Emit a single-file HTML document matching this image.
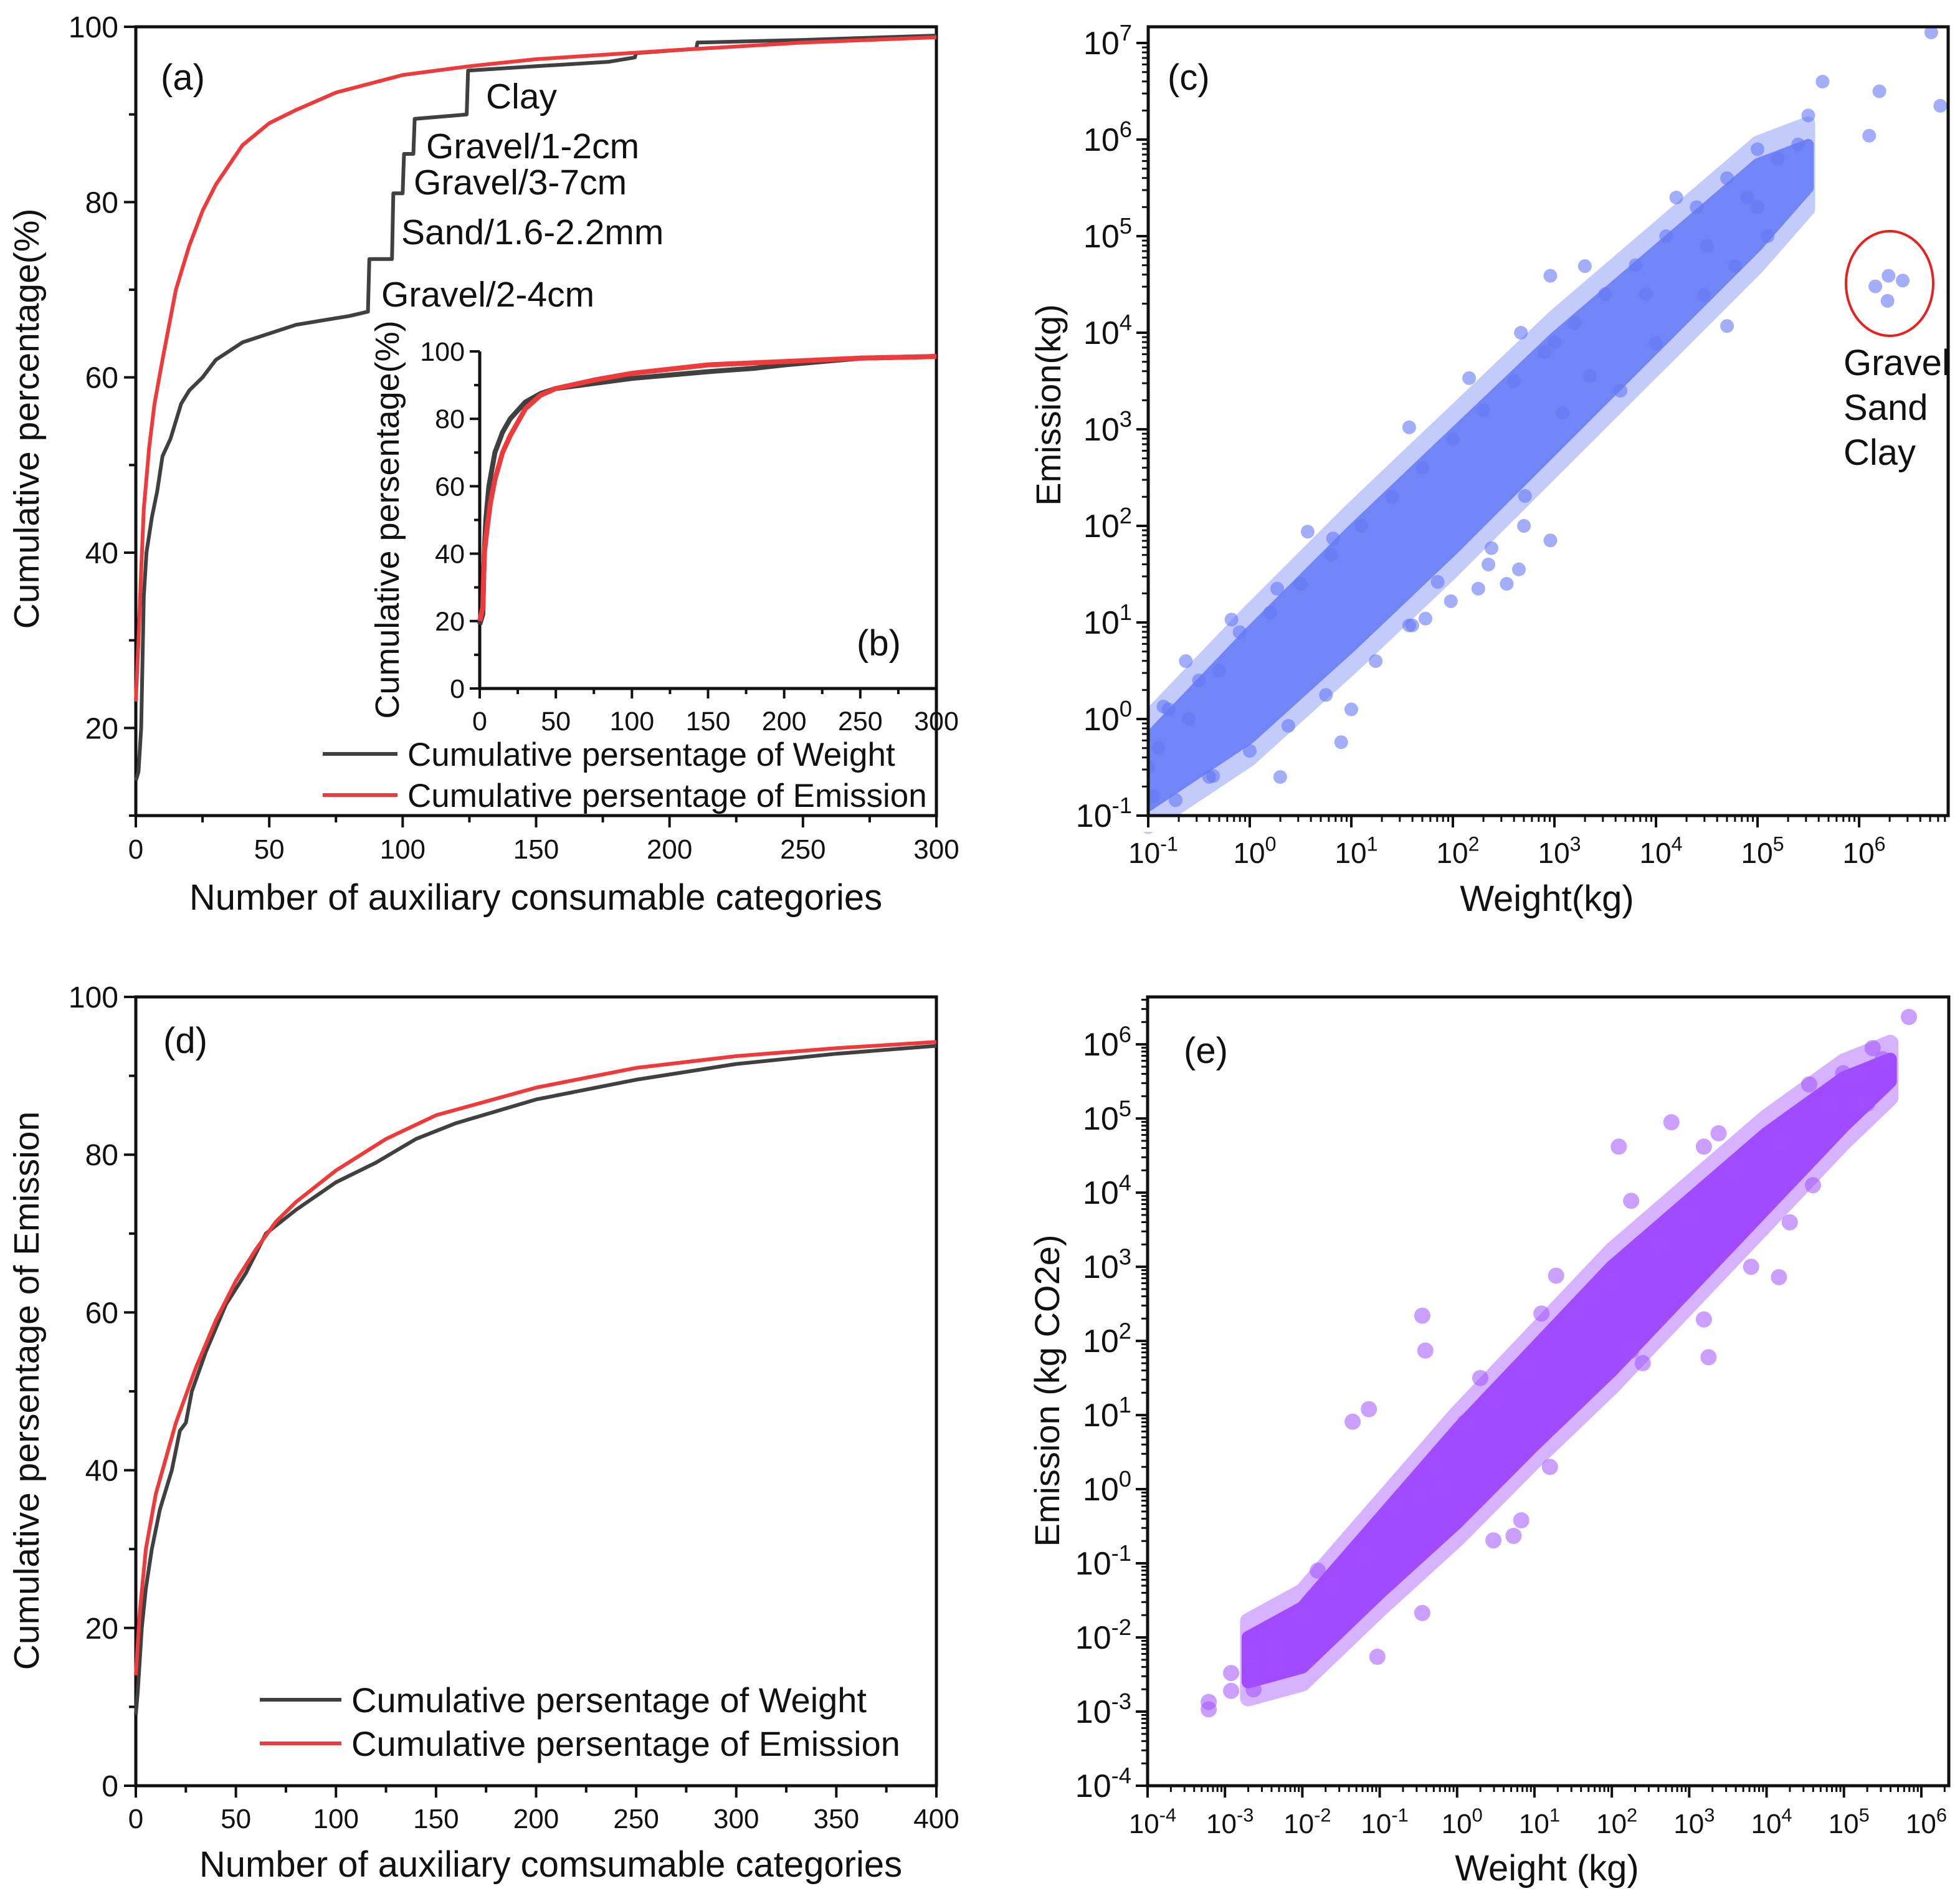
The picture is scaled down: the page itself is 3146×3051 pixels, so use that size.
<!DOCTYPE html>
<html><head><meta charset="utf-8"><style>
html,body{margin:0;padding:0;background:#fff;}
svg{display:block;font-family:"Liberation Sans",Arial,sans-serif;}
</style></head><body>
<svg id="fig" width="3146" height="3051" viewBox="0 0 3146 3051" xmlns="http://www.w3.org/2000/svg">
<rect x="0" y="0" width="3146" height="3051" fill="#fff"/>
<g id="layer"></g>
</svg>
<script>
// ---------- data: panel (a) ----------
const aWeightX = [0,1,2,3,4,6,8,10,13,17,20,25,30,35,40,50,60,70,80,87,87.5,96,96.5,100,100.5,104,104.5,124,124.5,150,177,187,187.5,210,210.5,250,300];
const aWeightY = [14,15,20,35,40,44,47,51,53,57,58.5,60,62,63,64,65,66,66.5,67,67.5,73.5,73.5,81,81,85.5,85.5,89.5,90,95,95.5,96,96.5,97,97.5,98.2,98.5,99];
const aEmisX = [0,1,2,3,5,7,10,15,20,25,30,40,50,60,75,100,125,150,200,250,300];
const aEmisY = [23,30,38,45,52,57,62,70,75,79,82,86.5,89,90.5,92.5,94.5,95.5,96.3,97.3,98.2,98.8];
const aXTicks = [0,50,100,150,200,250,300];
const aYTicks = [20,40,60,80,100];
// ---------- data: inset (b) ----------
const bWeightX = [0,2,3,4,6,10,15,20,30,40,50,75,100,150,180,200,250,300];
const bWeightY = [19,22,40,50,60,70,76,80,85,87.5,89,90.5,92,94,95,96,98,98.5];
const bEmisX = [0,2,3,5,7,10,15,20,30,40,50,75,100,150,200,250,300];
const bEmisY = [20,24,40,48,55,62,70,75,83,87,89,91.5,93.5,96,97,98,98.5];
const bXTicks = [0,50,100,150,200,250,300];
const bYTicks = [0,20,40,60,80,100];
// ---------- data: panel (d) ----------
const dWeightX = [0,1,3,5,8,12,18,22,25,28,35,45,55,65,70,80,100,120,140,160,200,250,300,350,400];
const dWeightY = [9,12,20,25,30,35,40,45,46,50,55,61,65,70,71,73,76.5,79,82,84,87,89.5,91.5,92.8,93.8];
const dEmisX = [0,2,5,10,20,30,40,50,60,70,80,100,125,150,200,250,300,350,400];
const dEmisY = [14,22,30,37,46,53,59,64,68,71.5,74,78,82,85,88.5,91,92.5,93.5,94.3];
const dXTicks = [0,50,100,150,200,250,300,350,400];
const dYTicks = [0,20,40,60,80,100];
// ---------- data: panel (c) (log10 values) ----------
const cBandX = [-1,0,1,2,3,4,5,5.5];
const cBandLo = [-0.9,-0.2,0.75,1.75,2.8,3.85,4.9,5.5];
const cBandHi = [-0.2,0.9,1.95,2.95,3.95,4.85,5.75,5.95];
const cLogW = [6.71,6.8,6.2,6.1,5.64,5.5,6.16,6.29,6.43,6.28,4.7,4.78,4.47,4.0,3.65,3.35,3.08,2.71,2.96,2.38,2.25,1.85,1.73,1.57,2.53,2.65,0.9,2.67,2.96,3.3,0.57,1.57,2.16,0.82,0.27,-0.18,-0.63,-0.85,-0.73,-0.36,0,0.38,0.75,1.24,1.6,1.98,2.35,2.7,-1,-0.95,-0.9,-0.8,-0.6,-0.5,-0.3,-0.1,0.2,0.5,0.8,1.1,1.4,1.7,2.0,2.3,2.6,2.9,3.2,3.5,3.8,4.1,4.4,4.7,5.0,5.2,5.4,4.2,4.5,5.0,3.9,1.0,0.3,-0.4,3.0,4.9,5.1];
const cLogE = [7.11,6.35,6.5,6.04,6.6,6.25,4.48,4.59,4.54,4.33,4.07,4.69,4.39,3.89,3.4,3.55,3.17,2.31,1.85,1.77,1.35,1.42,1.04,0.97,1.4,1.55,-0.24,4.0,4.59,4.69,1.94,3.02,3.53,1.87,1.35,1.03,0.6,0.13,-0.84,-0.59,-0.33,-0.07,0.25,0.6,0.97,1.22,1.6,2.0,-0.5,-0.8,-0.3,0.1,0.0,0.4,0.5,0.9,1.1,1.4,1.7,2.0,2.3,2.6,2.9,3.2,3.5,3.8,4.1,4.4,4.7,5.0,5.3,5.6,5.9,5.8,5.95,5.4,4.9,5.3,4.4,0.1,-0.6,-0.6,3.9,5.4,5.0];
const cXTicks = [-1,0,1,2,3,4,5,6];
const cYTicks = [-1,0,1,2,3,4,5,6,7];
// ---------- data: panel (e) (log10 values) ----------
const eBandX = [-2.7,-2,-1,0,1,2,3,4,5,5.6];
const eBandLo = [-2.6,-2.4,-1.4,-0.45,0.6,1.6,2.7,3.8,4.9,5.5];
const eBandHi = [-2.0,-1.6,-0.4,0.8,1.9,3.0,3.9,4.8,5.55,5.8];
const eLogW = [5.84,5.37,4.99,5.16,4.55,3.38,3.19,2.77,2.09,2.25,1.28,1.09,4.16,3.19,3.25,2.25,-0.45,-0.41,-1.35,-1.14,-0.27,-0.45,-1.03,0.47,0.83,0.73,-3.21,-3.21,-2.92,-2.92,-2.63,-2.63,-2.63,-2.35,-2.35,-2.0,-1.6,-1.2,-0.8,-0.5,0.1,0.5,0.9,1.5,2.0,2.6,3.0,3.6,4.2,4.8,5.2,5.5,1.2,2.4,4.6,-1.8,-0.2,3.8,4.3,5.3,1.7,0.3];
const eLogE = [6.37,5.95,5.61,5.21,5.46,4.8,4.62,4.95,4.62,3.89,2.88,2.37,2.86,2.29,1.78,1.87,2.34,1.87,0.91,1.08,0.3,-1.67,-2.26,-0.69,-0.42,-0.63,-2.97,-2.87,-2.48,-2.72,-2.7,-2.48,-2.23,-2.4,-2.15,-1.7,-1.3,-0.9,-0.2,-0.1,0.9,1.2,1.6,2.4,2.8,3.3,3.7,4.3,4.7,5.2,5.6,5.8,0.3,1.7,4.1,-1.1,0.0,3.0,3.6,5.2,2.6,1.5];
const eXTicks = [-4,-3,-2,-1,0,1,2,3,4,5,6];
const eYTicks = [-4,-3,-2,-1,0,1,2,3,4,5,6];

// ---------- helpers ----------
const NS = 'http://www.w3.org/2000/svg';
const layer = document.getElementById('layer');
function mk(tag, attrs, parent) {
  const el = document.createElementNS(NS, tag);
  for (const k in attrs) el.setAttribute(k, attrs[k]);
  (parent || layer).appendChild(el);
  return el;
}
function linScale(d0, d1, r0, r1) { return v => r0 + (v - d0) / (d1 - d0) * (r1 - r0); }
function txt(x, y, s, size, anchor, name, parent, rot) {
  const t = mk('text', {x: x, y: y, 'font-size': size, 'text-anchor': anchor || 'middle', fill: '#111'}, parent);
  if (rot) t.setAttribute('transform', 'rotate(-90 ' + x + ' ' + y + ')');
  t.textContent = s;
  
  
  return t;
}
function supText(x, y, exp, size, name, parent, anchor) {
  const t = mk('text', {x: x, y: y, 'font-size': size, 'text-anchor': anchor || 'middle', fill: '#111'}, parent);
  
  
  const a = mk('tspan', {}, t); a.textContent = '10';
  const b = mk('tspan', {dy: -size * 0.42, 'font-size': size * 0.7}, t); b.textContent = String(exp);
  return t;
}
function line(x1, y1, x2, y2, w, name, parent, col) {
  const l = mk('line', {x1: x1, y1: y1, x2: x2, y2: y2, stroke: col || '#111', 'stroke-width': w}, parent);
  
  
  return l;
}
function polyline(xs, ys, sx, sy, col, w, name, parent) {
  let d = '';
  for (let i = 0; i < xs.length; i++) d += (i ? 'L' : 'M') + sx(xs[i]).toFixed(1) + ',' + sy(ys[i]).toFixed(1);
  const p = mk('path', {d: d, fill: 'none', stroke: col, 'stroke-width': w, 'stroke-linejoin': 'round'}, parent);
  
  
  return p;
}

// ---------- panel (a) ----------
(function(){
  const g = mk('g', {});
  
  
  const L = 218, R = 1503, T = 43, B = 1309;
  const sx = linScale(0, 300, L, R), sy = linScale(10, 100, B, T);
  mk('rect', {x: L, y: T, width: R - L, height: B - T, fill: 'none', stroke: '#111', 'stroke-width': 5}, g);
  for (let v = 0; v <= 300; v += 25) line(sx(v), B, sx(v), B + (v % 50 === 0 ? 19 : 11), 4, 'x-tick', g);
  for (let v = 10; v <= 100; v += 10) line(L, sy(v), L - (v % 20 === 0 ? 19 : 11), sy(v), 4, 'y-tick', g);
  aXTicks.forEach(v => txt(sx(v), 1378, String(v), 44, 'middle', 'x-tick-label', g));
  aYTicks.forEach(v => txt(L - 28, sy(v) + 17, String(v), 48, 'end', 'y-tick-label', g));
  txt(860, 1460, 'Number of auxiliary consumable categories', 58, 'middle', 'x-axis-title', g);
  txt(62, 672, 'Cumulative percentage(%)', 57, 'middle', 'y-axis-title', g, true);
  polyline(aWeightX, aWeightY, sx, sy, '#404040', 6, 'weight-curve', g);
  polyline(aEmisX, aEmisY, sx, sy, '#ee3a3a', 6, 'emission-curve', g);
  txt(258, 144, '(a)', 58, 'start', 'panel-label-a', g);
  txt(780, 174, 'Clay', 57, 'start', 'annotation-clay', g);
  txt(684, 254, 'Gravel/1-2cm', 57, 'start', 'annotation-gravel-1-2cm', g);
  txt(664, 312, 'Gravel/3-7cm', 57, 'start', 'annotation-gravel-3-7cm', g);
  txt(644, 392, 'Sand/1.6-2.2mm', 57, 'start', 'annotation-sand', g);
  txt(612, 492, 'Gravel/2-4cm', 57, 'start', 'annotation-gravel-2-4cm', g);
  // legend
  line(518, 1210, 638, 1210, 6, 'legend-weight-line', g, '#404040');
  txt(654, 1229, 'Cumulative persentage of Weight', 53, 'start', 'legend-weight-label', g);
  line(518, 1276, 638, 1276, 6, 'legend-emission-line', g, '#ee3a3a');
  txt(654, 1295, 'Cumulative persentage of Emission', 53, 'start', 'legend-emission-label', g);

  // inset (b)
  const ig = mk('g', {}, g);
  
  
  const iL = 770, iR = 1503, iT = 564, iB = 1105;
  const isx = linScale(0, 300, iL, iR), isy = linScale(0, 100, iB, iT);
  line(iL, iT, iL, iB, 5, 'inset-y-axis', ig);
  line(iL, iB, iR, iB, 5, 'inset-x-axis', ig);
  line(iR, iT, iR, iB, 5, 'inset-right-edge', ig);
  for (let v = 0; v <= 300; v += 25) line(isx(v), iB, isx(v), iB + (v % 50 === 0 ? 16 : 9), 4, 'inset-x-tick', ig);
  for (let v = 0; v <= 100; v += 10) line(iL, isy(v), iL - (v % 20 === 0 ? 16 : 9), isy(v), 4, 'inset-y-tick', ig);
  bXTicks.forEach(v => txt(isx(v), 1172, String(v), 43, 'middle', 'inset-x-tick-label', ig));
  bYTicks.forEach(v => txt(iL - 24, isy(v) + 15, String(v), 43, 'end', 'inset-y-tick-label', ig));
  txt(640, 834, 'Cumulative persentage(%)', 54, 'middle', 'inset-y-axis-title', ig, true);
  polyline(bWeightX, bWeightY, isx, isy, '#404040', 8, 'inset-weight-curve', ig);
  polyline(bEmisX, bEmisY, isx, isy, '#ee3a3a', 8, 'inset-emission-curve', ig);
  txt(1375, 1052, '(b)', 58, 'start', 'panel-label-b', ig);
})();

// ---------- panel (d) ----------
(function(){
  const g = mk('g', {});
  
  
  const L = 218, R = 1503, T = 1600, B = 2866;
  const sx = linScale(0, 400, L, R), sy = linScale(0, 100, B, T);
  mk('rect', {x: L, y: T, width: R - L, height: B - T, fill: 'none', stroke: '#111', 'stroke-width': 5}, g);
  for (let v = 0; v <= 400; v += 25) line(sx(v), B, sx(v), B + (v % 50 === 0 ? 19 : 11), 4, 'x-tick', g);
  for (let v = 0; v <= 100; v += 10) line(L, sy(v), L - (v % 20 === 0 ? 19 : 11), sy(v), 4, 'y-tick', g);
  dXTicks.forEach(v => txt(sx(v), 2934, String(v), 44, 'middle', 'x-tick-label', g));
  dYTicks.forEach(v => txt(L - 28, sy(v) + 17, String(v), 48, 'end', 'y-tick-label', g));
  txt(884, 3012, 'Number of auxiliary comsumable categories', 58, 'middle', 'x-axis-title', g);
  txt(62, 2232, 'Cumulative persentage of Emission', 57, 'middle', 'y-axis-title', g, true);
  polyline(dWeightX, dWeightY, sx, sy, '#404040', 6, 'weight-curve', g);
  polyline(dEmisX, dEmisY, sx, sy, '#ee3a3a', 6, 'emission-curve', g);
  txt(262, 1690, '(d)', 58, 'start', 'panel-label-d', g);
  line(417, 2728, 548, 2728, 6, 'legend-weight-line', g, '#404040');
  txt(564, 2748, 'Cumulative persentage of Weight', 56, 'start', 'legend-weight-label', g);
  line(417, 2798, 548, 2798, 6, 'legend-emission-line', g, '#ee3a3a');
  txt(564, 2818, 'Cumulative persentage of Emission', 56, 'start', 'legend-emission-label', g);
})();

// ---------- log scatter helper ----------
function bandPath(cfg, sx, sy, pad) {
  let d = '';
  for (let i = 0; i < cfg.bandX.length; i++) d += (i ? 'L' : 'M') + sx(cfg.bandX[i]).toFixed(1) + ',' + sy(cfg.bandHi[i] + pad).toFixed(1);
  for (let i = cfg.bandX.length - 1; i >= 0; i--) d += 'L' + sx(cfg.bandX[i]).toFixed(1) + ',' + sy(cfg.bandLo[i] - pad).toFixed(1);
  return d + 'Z';
}
function logPanel(cfg) {
  const g = mk('g', {});
  
  
  const sx = linScale(cfg.x0, cfg.x1, cfg.L, cfg.R), sy = linScale(cfg.y0, cfg.y1, cfg.B, cfg.T);
  const halo = mk('path', {d: bandPath(cfg, sx, sy, 0.22), fill: cfg.bandCol, stroke: cfg.bandCol, 'stroke-width': cfg.r * 2, 'stroke-linejoin': 'round', opacity: 0.4}, g);
  
  
  const band = mk('path', {d: bandPath(cfg, sx, sy, 0), fill: cfg.bandCol, stroke: cfg.bandCol, 'stroke-width': cfg.r * 1.6, 'stroke-linejoin': 'round', opacity: 0.9}, g);
  
  
  for (let i = 0; i < cfg.xs.length; i++) {
    const c = mk('circle', {cx: sx(cfg.xs[i]).toFixed(1), cy: sy(cfg.ys[i]).toFixed(1), r: cfg.r, fill: cfg.ptCol}, g);
    
    
  }
  // cover overflow outside the frame (limited to this panel's area)
  mk('rect', {x: cfg.L - 40, y: cfg.B + 2, width: cfg.R - cfg.L + 80, height: 24, fill: '#fff'}, g);
  mk('rect', {x: cfg.R + 3, y: cfg.T - 10, width: 16, height: cfg.B - cfg.T + 20, fill: '#fff'}, g);
  mk('rect', {x: cfg.L - 40, y: cfg.T - 40, width: cfg.R - cfg.L + 60, height: 38, fill: '#fff'}, g);
  mk('rect', {x: cfg.L - 24, y: cfg.T, width: 22, height: cfg.B - cfg.T, fill: '#fff'}, g);
  mk('rect', {x: cfg.L, y: cfg.T, width: cfg.R - cfg.L, height: cfg.B - cfg.T, fill: 'none', stroke: '#111', 'stroke-width': 5}, g);
  for (let e = Math.floor(cfg.x0); e <= cfg.x1; e++) {
    if (e >= cfg.x0) line(sx(e), cfg.B, sx(e), cfg.B + 19, 4, 'x-tick', g);
    for (let m = 2; m <= 9; m++) { const v = e + Math.log10(m); if (v > cfg.x0 && v < cfg.x1) line(sx(v), cfg.B, sx(v), cfg.B + 10, 3, 'x-minor-tick', g); }
  }
  for (let e = Math.floor(cfg.y0); e <= cfg.y1; e++) {
    if (e >= cfg.y0) line(cfg.L, sy(e), cfg.L - 19, sy(e), 4, 'y-tick', g);
    for (let m = 2; m <= 9; m++) { const v = e + Math.log10(m); if (v > cfg.y0 && v < cfg.y1) line(cfg.L, sy(v), cfg.L - 10, sy(v), 3, 'y-minor-tick', g); }
  }
  cfg.xTicks.forEach(e => supText(sx(e) + 8, cfg.B + 76, e, cfg.xfs, 'x-tick-label', g));
  cfg.yTicks.forEach(e => supText(cfg.L - 26, sy(e) + 18, e, cfg.yfs, 'y-tick-label', g, 'end'));
  return {g: g, sx: sx, sy: sy};
}

// ---------- panel (c) ----------
(function(){
  const p = logPanel({name: 'panel-c', L: 1843, R: 3127, T: 43, B: 1309, x0: -1, x1: 6.877, y0: -1, y1: 7.168,
    bandX: cBandX, bandLo: cBandLo, bandHi: cBandHi, xs: cLogW, ys: cLogE, r: 11,
    bandCol: '#6a7ef6', ptCol: 'rgba(100,120,245,0.6)', xTicks: cXTicks, yTicks: cYTicks, xfs: 46, yfs: 52});
  const g = p.g;
  txt(2483, 1462, 'Weight(kg)', 58, 'middle', 'x-axis-title', g);
  txt(1702, 650, 'Emission(kg)', 56, 'middle', 'y-axis-title', g, true);
  txt(1874, 144, '(c)', 58, 'start', 'panel-label-c', g);
  const el = mk('ellipse', {cx: 3033, cy: 455, rx: 70, ry: 84, fill: 'none', stroke: '#e82020', 'stroke-width': 4}, g);
  
  
  txt(2959, 602, 'Gravel', 58, 'start', 'annotation-gravel', g);
  txt(2959, 674, 'Sand', 58, 'start', 'annotation-sand', g);
  txt(2959, 746, 'Clay', 58, 'start', 'annotation-clay', g);
})();

// ---------- panel (e) ----------
(function(){
  const p = logPanel({name: 'panel-e', L: 1842, R: 3128, T: 1600, B: 2866, x0: -4, x1: 6.355, y0: -4, y1: 6.64,
    bandX: eBandX, bandLo: eBandLo, bandHi: eBandHi, xs: eLogW, ys: eLogE, r: 13,
    bandCol: '#9b40ff', ptCol: 'rgba(160,80,255,0.55)', xTicks: eXTicks, yTicks: eYTicks, xfs: 44, yfs: 52});
  const g = p.g;
  txt(2483, 3018, 'Weight (kg)', 58, 'middle', 'x-axis-title', g);
  txt(1700, 2232, 'Emission (kg CO2e)', 56, 'middle', 'y-axis-title', g, true);
  txt(1900, 1706, '(e)', 58, 'start', 'panel-label-e', g);
})();
</script>
</body></html>
